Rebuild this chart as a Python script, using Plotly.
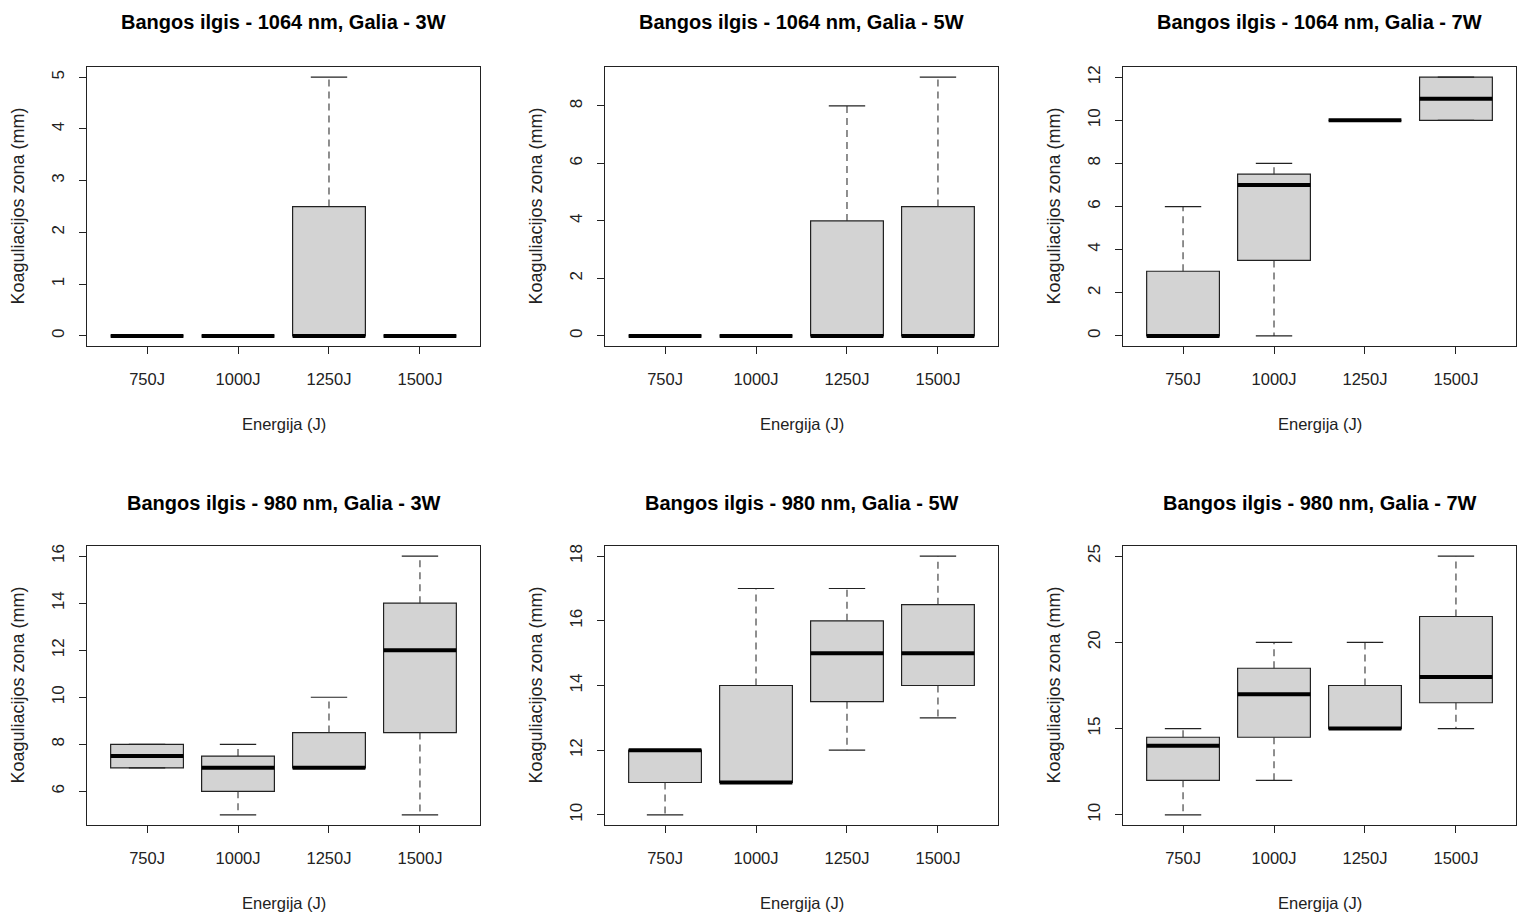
import plotly.graph_objects as go

W, H = 1523, 915

categories = ["750J", "1000J", "1250J", "1500J"]

titles = [
    "Bangos ilgis - 1064 nm, Galia - 3W",
    "Bangos ilgis - 1064 nm, Galia - 5W",
    "Bangos ilgis - 1064 nm, Galia - 7W",
    "Bangos ilgis - 980 nm, Galia - 3W",
    "Bangos ilgis - 980 nm, Galia - 5W",
    "Bangos ilgis - 980 nm, Galia - 7W",
]

# five-number summaries per panel: lower whisker, q1, median, q3, upper whisker
p1_low = [0, 0, 0, 0]
p1_q1 = [0, 0, 0, 0]
p1_med = [0, 0, 0, 0]
p1_q3 = [0, 0, 2.5, 0]
p1_high = [0, 0, 5, 0]

p2_low = [0, 0, 0, 0]
p2_q1 = [0, 0, 0, 0]
p2_med = [0, 0, 0, 0]
p2_q3 = [0, 0, 4, 4.5]
p2_high = [0, 0, 8, 9]

p3_low = [0, 0, 10, 10]
p3_q1 = [0, 3.5, 10, 10]
p3_med = [0, 7, 10, 11]
p3_q3 = [3, 7.5, 10, 12]
p3_high = [6, 8, 10, 12]

p4_low = [7, 5, 7, 5]
p4_q1 = [7, 6, 7, 8.5]
p4_med = [7.5, 7, 7, 12]
p4_q3 = [8, 7.5, 8.5, 14]
p4_high = [8, 8, 10, 16]

p5_low = [10, 11, 12, 13]
p5_q1 = [11, 11, 13.5, 14]
p5_med = [12, 11, 15, 15]
p5_q3 = [12, 14, 16, 16.5]
p5_high = [12, 17, 17, 18]

p6_low = [10, 12, 15, 15]
p6_q1 = [12, 14.5, 15, 16.5]
p6_med = [14, 17, 15, 18]
p6_q3 = [14.5, 18.5, 17.5, 21.5]
p6_high = [15, 20, 20, 25]

y_ticks = [
    [0, 1, 2, 3, 4, 5],
    [0, 2, 4, 6, 8],
    [0, 2, 4, 6, 8, 10, 12],
    [6, 8, 10, 12, 14, 16],
    [10, 12, 14, 16, 18],
    [10, 15, 20, 25],
]

panels = [
    (p1_low, p1_q1, p1_med, p1_q3, p1_high),
    (p2_low, p2_q1, p2_med, p2_q3, p2_high),
    (p3_low, p3_q1, p3_med, p3_q3, p3_high),
    (p4_low, p4_q1, p4_med, p4_q3, p4_high),
    (p5_low, p5_q1, p5_med, p5_q3, p5_high),
    (p6_low, p6_q1, p6_med, p6_q3, p6_high),
]

x_label = "Energija (J)"
y_label = "Koaguliacijos zona (mm)"

FONT = "Liberation Sans, Arial, Helvetica, sans-serif"
LINE = "#222222"
FILL = "#D3D3D3"

# pixel layout of plot regions
col_px = [(87, 480), (605, 998), (1123, 1516)]
row_px = [(65, 345), (545, 825)]

fig = go.Figure()
layout = dict(
    width=W, height=H, margin=dict(l=0, r=0, t=0, b=0),
    paper_bgcolor="white", plot_bgcolor="white", showlegend=False,
    font=dict(family=FONT, color="#222222"), annotations=[],
)

pos = [1, 2, 3, 4]
BOXW = 0.8
CAPW = 0.4

for k, (low, q1, med, q3, high) in enumerate(panels):
    r, c = divmod(k, 3)
    ax = "" if k == 0 else str(k + 1)
    xa, ya = "x" + ax, "y" + ax
    x0p, x1p = col_px[c]
    y0p, y1p = row_px[r]

    # boxes
    fig.add_trace(go.Bar(
        x=pos, y=[b - a for a, b in zip(q1, q3)], base=q1, width=BOXW,
        marker=dict(color=FILL, line=dict(color=LINE, width=1.2)),
        xaxis=xa, yaxis=ya, hoverinfo="skip",
    ))
    # whiskers (dashed)
    wx, wy = [], []
    for p, a, b, lo, hi in zip(pos, q1, q3, low, high):
        wx += [p, p, None, p, p, None]
        wy += [b, hi, None, a, lo, None]
    fig.add_trace(go.Scatter(
        x=wx, y=wy, mode="lines", line=dict(color="#333333", width=1.1, dash="7px,5px"),
        xaxis=xa, yaxis=ya, hoverinfo="skip",
    ))
    # staples
    sx, sy = [], []
    for p, lo, hi in zip(pos, low, high):
        sx += [p - CAPW / 2, p + CAPW / 2, None, p - CAPW / 2, p + CAPW / 2, None]
        sy += [hi, hi, None, lo, lo, None]
    fig.add_trace(go.Scatter(
        x=sx, y=sy, mode="lines", line=dict(color=LINE, width=1.2),
        xaxis=xa, yaxis=ya, hoverinfo="skip",
    ))
    # medians
    mx, my = [], []
    for p, m in zip(pos, med):
        mx += [p - BOXW / 2, p + BOXW / 2, None]
        my += [m, m, None]
    fig.add_trace(go.Scatter(
        x=mx, y=my, mode="lines", line=dict(color="black", width=4),
        xaxis=xa, yaxis=ya, hoverinfo="skip",
    ))

    ymin, ymax = min(low), max(high)
    pad = (ymax - ymin) * 0.04
    xdom = [x0p / W, x1p / W]
    ydom = [1 - y1p / H, 1 - y0p / H]
    layout["xaxis" + ax] = dict(
        domain=xdom, anchor=ya, range=[0.5 - 0.16, 4.5 + 0.16],
        tickvals=pos, ticktext=categories, ticks="outside", ticklen=7,
        tickcolor=LINE, showline=True, linecolor=LINE, linewidth=1.2, mirror=True,
        showgrid=False, zeroline=False, tickfont=dict(size=16.5, color="#222222"),
        ticklabelstandoff=11, fixedrange=True,
    )
    layout["yaxis" + ax] = dict(
        domain=ydom, anchor=xa, range=[ymin - pad, ymax + pad],
        tickvals=y_ticks[k], ticks="outside", ticklen=7, tickangle=-90,
        tickcolor=LINE, showline=True, linecolor=LINE, linewidth=1.2, mirror=True,
        showgrid=False, zeroline=False, tickfont=dict(size=17, color="#222222"),
        ticklabelstandoff=8, fixedrange=True,
    )
    cx = (x0p + x1p) / 2
    title_y = 20 if r == 0 else 502
    layout["annotations"] += [
        dict(text="<b>" + titles[k] + "</b>", x=cx / W, y=1 - title_y / H,
             xref="paper", yref="paper", showarrow=False, xanchor="center",
             yanchor="middle", font=dict(size=20, color="black", family=FONT)),
        dict(text=x_label, x=cx / W, y=1 - (y1p + 78) / H,
             xref="paper", yref="paper", showarrow=False, xanchor="center",
             yanchor="middle", font=dict(size=16.5, color="#222222", family=FONT)),
        dict(text=y_label, x=(x0p - 69) / W, y=1 - ((y0p + y1p) / 2) / H,
             xref="paper", yref="paper", showarrow=False, xanchor="center",
             yanchor="middle", textangle=-90,
             font=dict(size=18, color="#222222", family=FONT)),
    ]

fig.update_layout(**layout)
fig.write_html(
    "out.html",
    config={"displayModeBar": False, "staticPlot": True},
    post_script="document.body.style.margin='0px';document.body.style.overflow='hidden';",
)
